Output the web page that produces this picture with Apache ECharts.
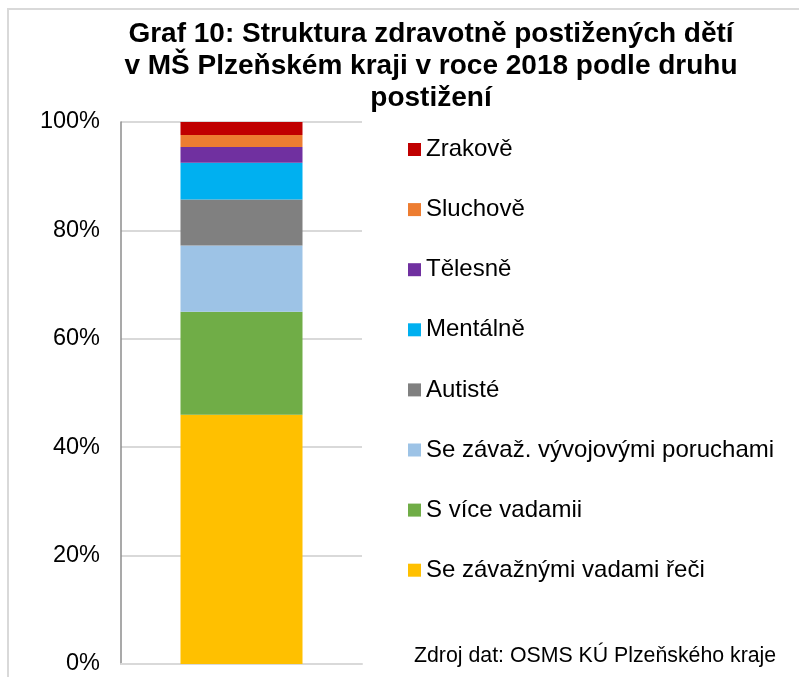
<!DOCTYPE html>
<html>
<head>
<meta charset="utf-8">
<script src="https://cdn.jsdelivr.net/npm/echarts@6/dist/echarts.min.js"></script>
<style>
html,body{margin:0;padding:0;background:#fff;}
#chart{width:799px;height:677px;}
</style>
</head>
<body>
<div id="chart"></div>
<script>
// Data (bottom to top of stack)
const categories = ['2018'];
const seriesNames = ['Se závažnými vadami řeči', 'S více vadamii', 'Se závaž. vývojovými poruchami', 'Autisté', 'Mentálně', 'Tělesně', 'Sluchově', 'Zrakově'];
const seriesValues = [46.0, 19.0, 12.2, 8.5, 6.8, 2.9, 2.2, 2.4];
const seriesColors = ['#FFC000', '#70AD47', '#9DC3E6', '#808080', '#00B0F0', '#7030A0', '#ED7D31', '#C00000'];
const yTicks = [0, 20, 40, 60, 80, 100];
const titleText = 'Graf 10: Struktura zdravotně postižených dětí\nv MŠ Plzeňském kraji v roce 2018 podle druhu\npostižení';
const sourceText = 'Zdroj dat: OSMS KÚ Plzeňského kraje';

const FONT = '"Liberation Sans", Arial, sans-serif';
const chart = echarts.init(document.getElementById('chart'), null, {renderer: 'canvas'});

const series = seriesNames.map((name, i) => ({
  name: name,
  type: 'bar',
  stack: 'total',
  barWidth: 122,
  data: [seriesValues[i]],
  itemStyle: {color: seriesColors[i]},
  emphasis: {disabled: true}
}));

chart.setOption({
  animation: false,
  backgroundColor: '#ffffff',
  title: {
    text: titleText,
    left: 431,
    top: 18,
    padding: 0,
    textAlign: 'center',
    textStyle: {fontFamily: FONT, fontSize: 28, fontWeight: 'bold', color: '#000', lineHeight: 32}
  },
  grid: {left: 121, right: 437, top: 122, bottom: 13, containLabel: false},
  legend: {
    orient: 'vertical',
    left: 408,
    top: 137.5,
    padding: 0,
    itemWidth: 13,
    itemHeight: 13,
    itemGap: 36.1,
    icon: 'rect',
    data: seriesNames.slice().reverse(),
    textStyle: {fontFamily: FONT, fontSize: 24, color: '#000'},
    selectedMode: false
  },
  xAxis: {
    type: 'category',
    data: categories,
    axisLine: {show: true, lineStyle: {color: '#d9d9d9', width: 2}},
    axisTick: {show: false},
    axisLabel: {show: false}
  },
  yAxis: {
    type: 'value',
    min: yTicks[0],
    max: yTicks[yTicks.length - 1],
    interval: 20,
    axisLine: {show: true, lineStyle: {color: '#8c8c8c', width: 1.5}},
    axisTick: {show: false},
    axisLabel: {margin: 21, fontFamily: FONT, fontSize: 23.5, color: '#000', formatter: '{value}%'},
    splitLine: {show: true, lineStyle: {color: '#d9d9d9', width: 2}}
  },
  graphic: [
    {type: 'rect', shape: {x: 8, y: 9, width: 900, height: 900}, style: {fill: 'none', stroke: '#d9d9d9', lineWidth: 2}, silent: true, z: -1},
    {type: 'text', left: 414, top: 646, style: {text: sourceText, fontFamily: FONT, fontSize: 21.3, fill: '#000'}}
  ],
  series: series
});
</script>
</body>
</html>
